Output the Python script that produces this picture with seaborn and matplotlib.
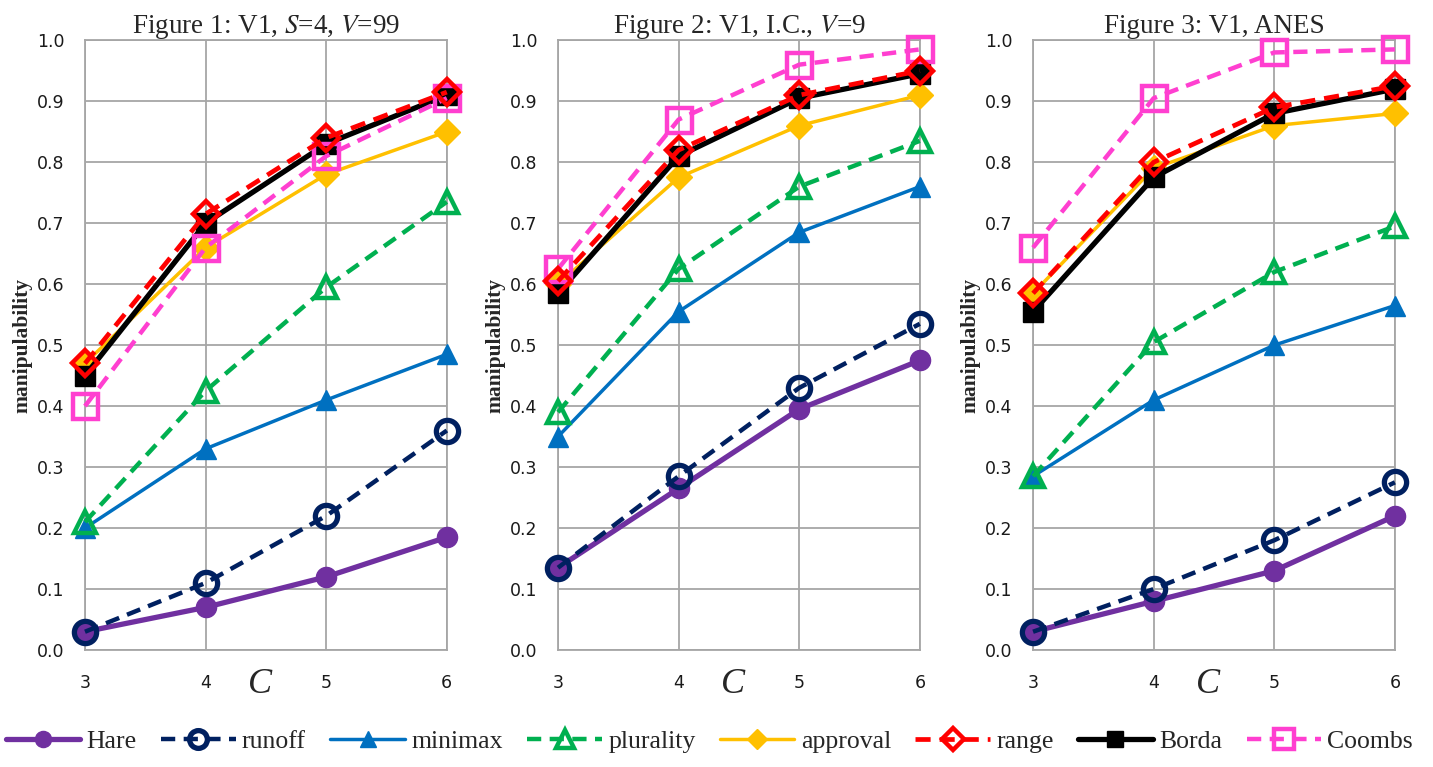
import numpy as np
import pandas as pd
import matplotlib.pyplot as plt
import seaborn as sns

# numero de candidatos
C = [3, 4, 5, 6]

titles = [r"Figure 1: V1, $\mathit{S}$=4, $\mathit{V}$=99",
          r"Figure 2: V1, I.C., $\mathit{V}$=9",
          "Figure 3: V1, ANES"]

# una fila por figura (1, 2, 3)
hare = [[0.03, 0.07, 0.12, 0.185], [0.135, 0.265, 0.395, 0.475], [0.03, 0.08, 0.13, 0.22]]
runoff = [[0.03, 0.11, 0.22, 0.36], [0.135, 0.285, 0.43, 0.535], [0.03, 0.10, 0.18, 0.275]]
minimax = [[0.20, 0.33, 0.41, 0.485], [0.35, 0.555, 0.685, 0.76], [0.285, 0.41, 0.50, 0.565]]
plurality = [[0.21, 0.425, 0.595, 0.735], [0.39, 0.625, 0.76, 0.835], [0.285, 0.505, 0.62, 0.695]]
approval = [[0.47, 0.66, 0.78, 0.85], [0.60, 0.775, 0.86, 0.91], [0.585, 0.79, 0.86, 0.88]]
range_ = [[0.47, 0.715, 0.84, 0.915], [0.605, 0.82, 0.91, 0.95], [0.585, 0.80, 0.89, 0.925]]
borda = [[0.45, 0.70, 0.83, 0.91], [0.585, 0.81, 0.905, 0.945], [0.555, 0.775, 0.88, 0.92]]
coombs = [[0.40, 0.66, 0.81, 0.905], [0.625, 0.87, 0.96, 0.985], [0.66, 0.905, 0.98, 0.985]]

metodos = ["Hare", "runoff", "minimax", "plurality", "approval", "range", "Borda", "Coombs"]
valores = [hare, runoff, minimax, plurality, approval, range_, borda, coombs]

filas = []
for nombre, serie in zip(metodos, valores):
    for f in range(3):
        for c, v in zip(C, serie[f]):
            filas.append({"fig": f, "metodo": nombre, "C": c, "valor": v})
df = pd.DataFrame(filas)

dash = (0, (3.2, 1.9))
estilos = {
    "Hare": dict(color="#7030A0", ls="-", lw=3.8, marker="o", ms=14.5, mfc="#7030A0", mec="#7030A0", mew=1, zorder=3),
    "runoff": dict(color="#002060", ls=dash, lw=3.2, marker="o", ms=16, mfc="none", mec="#002060", mew=3.8, zorder=4),
    "minimax": dict(color="#0070C0", ls="-", lw=2.5, marker="^", ms=15, mfc="#0070C0", mec="#0070C0", mew=1, zorder=3),
    "plurality": dict(color="#00B050", ls=dash, lw=3.2, marker="^", ms=16, mfc="none", mec="#00B050", mew=3.2, zorder=4),
    "approval": dict(color="#FFC000", ls="-", lw=2.5, marker="D", ms=13, mfc="#FFC000", mec="#FFC000", mew=1, zorder=5),
    "range": dict(color="#FF0000", ls=dash, lw=3.4, marker="D", ms=13.5, mfc="none", mec="#FF0000", mew=3.2, zorder=8),
    "Borda": dict(color="#000000", ls="-", lw=3.8, marker="s", ms=14, mfc="#000000", mec="#000000", mew=1, zorder=6),
    "Coombs": dict(color="#FF3FD0", ls=dash, lw=3.2, marker="s", ms=18, mfc="none", mec="#FF3FD0", mew=3.2, zorder=7),
}

sns.set_style("white")
plt.rcParams["mathtext.fontset"] = "stix"
plt.rcParams["font.family"] = ["DejaVu Sans"]

fig = plt.figure(figsize=(14.33, 7.67), dpi=100)
lefts = [0.0593, 0.3894, 0.7209]
gris = "#A6A6A6"

ejes = []
for f in range(3):
    ax = fig.add_axes([lefts[f], 0.1525, 0.2525, 0.795])
    sub = df[df["fig"] == f]
    for nombre in metodos:
        sns.lineplot(data=sub[sub["metodo"] == nombre], x="C", y="valor", ax=ax,
                     label=nombre, errorbar=None, clip_on=False, **estilos[nombre])
    if ax.get_legend() is not None:
        ax.get_legend().remove()
    ax.set_xlim(3, 6)
    ax.set_ylim(0, 1)
    ax.set_xticks(C)
    ax.set_yticks(np.arange(0, 1.01, 0.1))
    ax.set_yticklabels([f"{t:.1f}" for t in np.arange(0, 1.01, 0.1)])
    ax.grid(True, color=gris, lw=1.3)
    ax.set_axisbelow(True)
    for s in ax.spines.values():
        s.set_color(gris)
        s.set_linewidth(1.3)
    ax.tick_params(axis="y", length=5, width=1.2, color=gris, pad=10, labelsize=12.5, labelcolor="#1a1a1a")
    ax.tick_params(axis="x", length=4, width=1.2, color=gris, pad=13, labelsize=12.5, labelcolor="#1a1a1a")
    ax.set_xlabel("")
    ax.set_ylabel("manipulability", fontsize=15.5, fontweight="bold", family="Liberation Serif", labelpad=3)
    ax.set_title(titles[f], family="Liberation Serif", fontsize=19.5, pad=5)
    ax.text(0.485, -0.057, "C", transform=ax.transAxes, fontsize=26, fontstyle="italic",
            family="Liberation Serif", ha="center", va="center")
    ejes.append(ax)

handles, labels = ejes[0].get_legend_handles_labels()
fig.legend(handles, labels, loc="lower center", bbox_to_anchor=(0.495, -0.012), ncol=8,
           frameon=False, prop={"family": "Liberation Serif", "size": 18.5},
           handlelength=2.9, handletextpad=0.25, columnspacing=0.95, numpoints=1, markerscale=0.8)

fig.savefig("out.png", dpi=100)
